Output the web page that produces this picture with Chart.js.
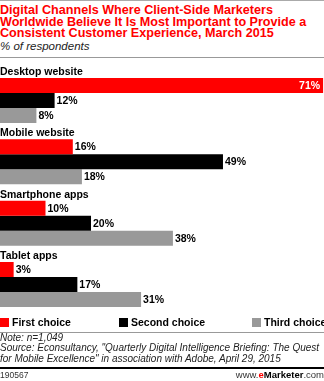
<!DOCTYPE html>
<html>
<head>
<meta charset="utf-8">
<script src="https://cdn.jsdelivr.net/npm/chart.js"></script>
<style>
  html, body { margin: 0; padding: 0; background: #fff; }
  body { width: 324px; height: 381px; position: relative; overflow: hidden; font-family: "Liberation Sans", Arial, sans-serif; }
  #rule0 { position: absolute; left: 0; top: 0; width: 324px; height: 1px; background: #aaa; }
  #title { position: absolute; left: 0; top: 5px; width: 324px; color: #ff0000; font-weight: bold; font-size: 12.6px; line-height: 11.7px; }
  #subtitle { position: absolute; left: 0; top: 40px; font-style: italic; font-size: 11.5px; color: #222; }
  #rule1 { position: absolute; left: 0; top: 57px; width: 324px; height: 1px; background: #999; }
  #chartBox { position: absolute; left: 0; top: 0; width: 324px; height: 381px; }
  #legend { position: absolute; left: 0; top: 316px; width: 324px; height: 14px; font-weight: bold; font-size: 10.5px; }
  #legend .item { position: absolute; top: 0; white-space: nowrap; }
  #legend .sw { display: inline-block; width: 9px; height: 9px; vertical-align: -1px; margin-right: 3px; }
  #rule2 { position: absolute; left: 0; top: 332px; width: 324px; height: 1px; background: #999; }
  #notes { position: absolute; left: 0; top: 333px; width: 324px; font-style: italic; font-size: 10px; line-height: 10.3px; color: #222; }
  #rule3 { position: absolute; left: 0; top: 367px; width: 324px; height: 2px; background: #000; }
  #id { position: absolute; left: 0; top: 370px; font-size: 8.5px; color: #333; }
  #brand { position: absolute; right: 0; top: 369px; font-size: 9.5px; color: #333; }
  #brand b { color: #000; }
  #brand .e { color: #ff0000; font-weight: bold; }
</style>
</head>
<body>
<div id="rule0"></div>
<div id="title">Digital Channels Where Client-Side Marketers Worldwide Believe It Is Most Important to Provide a Consistent Customer Experience, March 2015</div>
<div id="subtitle">% of respondents</div>
<div id="rule1"></div>
<div id="chartBox"><canvas id="chart"></canvas></div>
<div id="legend"></div>
<div id="rule2"></div>
<div id="notes">Note: n=1,049<br>Source: Econsultancy, "Quarterly Digital Intelligence Briefing: The Quest for Mobile Excellence" in association with Adobe, April 29, 2015</div>
<div id="rule3"></div>
<div id="id">190567</div>
<div id="brand">www.<span class="e">e</span><b>Marketer</b>.com</div>
<script>
const categories = ["Desktop website", "Mobile website", "Smartphone apps", "Tablet apps"];
const firstChoice = [71, 16, 10, 3];
const secondChoice = [12, 49, 20, 17];
const thirdChoice = [8, 18, 38, 31];
const seriesNames = ["First choice", "Second choice", "Third choice"];
const seriesColors = ["#ff0000", "#000000", "#999999"];

// category names sit above each group of bars
const groupLabels = {
    id: "groupLabels",
    afterDatasetsDraw(chart) {
        const ctx = chart.ctx;
        const meta = chart.getDatasetMeta(0);
        ctx.save();
        ctx.font = "bold 10.5px 'Liberation Sans', Arial, sans-serif";
        ctx.fillStyle = "#000";
        ctx.textAlign = "left";
        ctx.textBaseline = "alphabetic";
        meta.data.forEach((bar, i) => {
            const top = bar.y - bar.height / 2;
            ctx.fillText(categories[i], 0, top - 3);
        });
        ctx.restore();
    }
};

// percentage values at the end of each bar
const valueLabels = {
    id: "valueLabels",
    afterDatasetsDraw(chart) {
        const ctx = chart.ctx;
        ctx.save();
        ctx.font = "bold 10.5px 'Liberation Sans', Arial, sans-serif";
        ctx.textBaseline = "middle";
        chart.data.datasets.forEach((ds, di) => {
            const meta = chart.getDatasetMeta(di);
            meta.data.forEach((bar, i) => {
                const txt = ds.data[i] + "%";
                const w = ctx.measureText(txt).width;
                if (bar.x + w + 4 > chart.chartArea.right) {
                    ctx.fillStyle = "#fff";
                    ctx.textAlign = "right";
                    ctx.fillText(txt, bar.x - 3, bar.y + 0.5);
                } else {
                    ctx.fillStyle = "#000";
                    ctx.textAlign = "left";
                    ctx.fillText(txt, bar.x + 2, bar.y + 0.5);
                }
            });
        });
        ctx.restore();
    }
};

const chart = new Chart(document.getElementById("chart"), {
    type: "bar",
    data: {
        labels: categories,
        datasets: [
            { label: seriesNames[0], data: firstChoice, backgroundColor: seriesColors[0] },
            { label: seriesNames[1], data: secondChoice, backgroundColor: seriesColors[1] },
            { label: seriesNames[2], data: thirdChoice, backgroundColor: seriesColors[2] }
        ]
    },
    options: {
        indexAxis: "y",
        responsive: true,
        maintainAspectRatio: false,
        animation: false,
        categoryPercentage: 0.734,
        barPercentage: 1,
        layout: { padding: { top: 69.8, bottom: 65.8, left: 0, right: 0 } },
        scales: {
            x: { display: false, min: 0, max: 71.2 },
            y: { display: false }
        },
        plugins: {
            legend: { display: false },
            tooltip: { enabled: false }
        }
    },
    plugins: [groupLabels, valueLabels]
});

// legend drawn from the chart's datasets
const legendPos = [0, 119, 252];
const legendEl = document.getElementById("legend");
chart.data.datasets.forEach((ds, i) => {
    const item = document.createElement("span");
    item.className = "item";
    item.style.left = legendPos[i] + "px";
    item.innerHTML = '<span class="sw" style="background:' + ds.backgroundColor + '"></span>' + ds.label;
    legendEl.appendChild(item);
});
</script>
</body>
</html>
